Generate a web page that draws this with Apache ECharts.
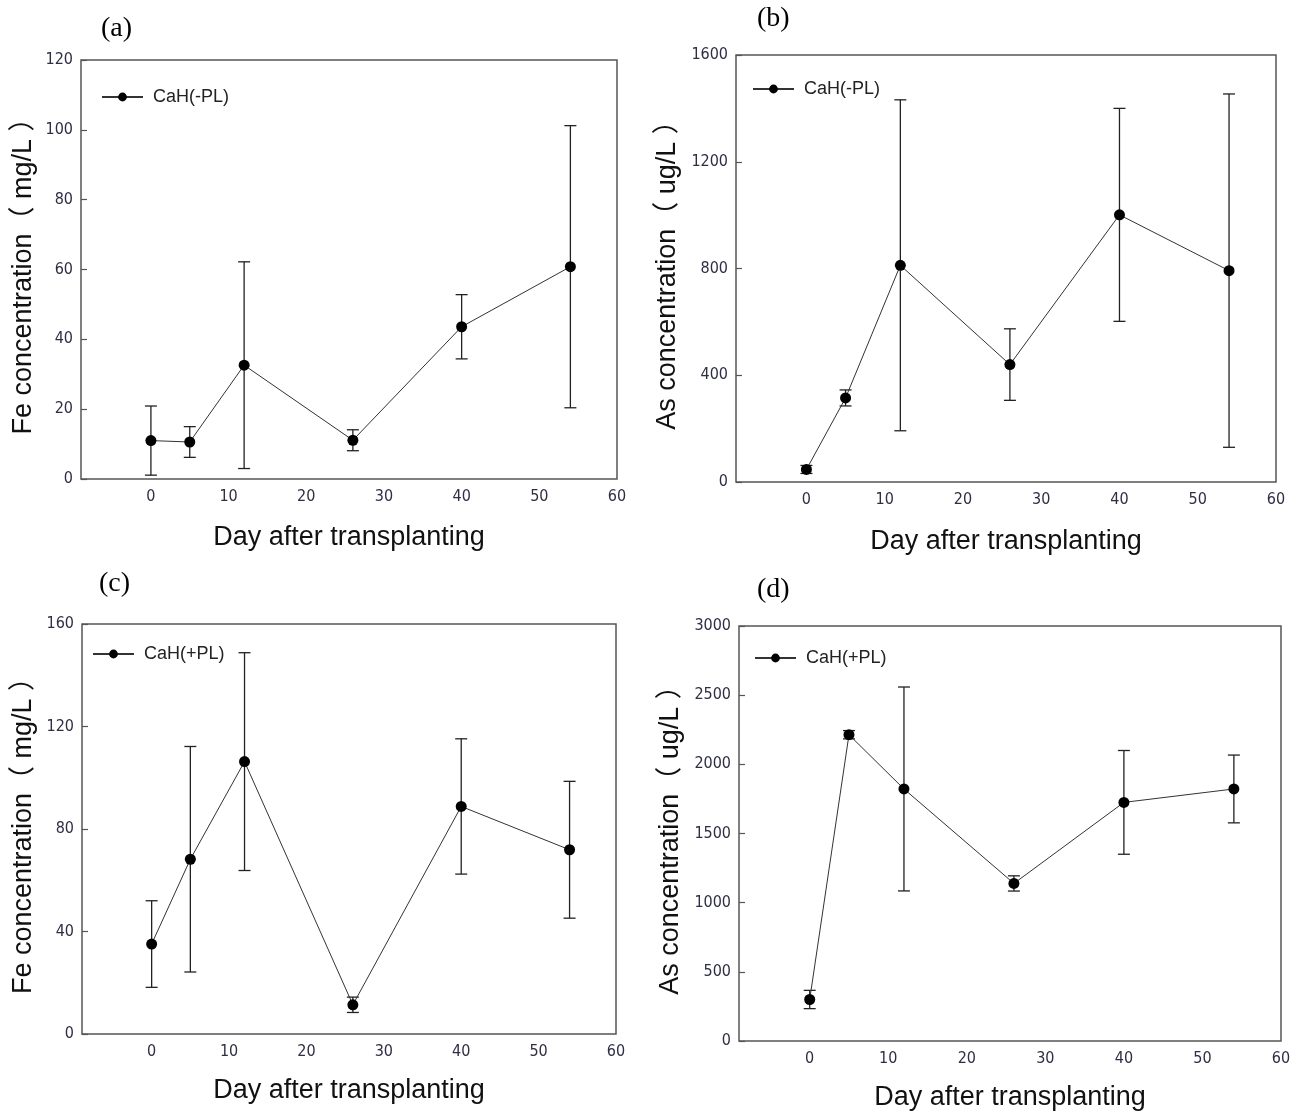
<!DOCTYPE html>
<html>
<head>
<meta charset="utf-8">
<title>Fe and As concentration</title>
<script src="https://cdn.jsdelivr.net/npm/echarts@6/dist/echarts.min.js"></script>
<style>
  html, body { margin: 0; padding: 0; background: #fff; }
  #main { width: 1299px; height: 1113px; }
</style>
</head>
<body>
<div id="main"></div>
<script>
// days after transplanting (shared x values)
var days = [0, 5, 12, 26, 40, 54];
var xTicks = [0, 10, 20, 30, 40, 50, 60];

// (a) Fe, CaH(-PL)
var feMinusMean = [11.0, 10.6, 32.6, 11.1, 43.6, 60.8];
var feMinusErr  = [9.9, 4.4, 29.6, 3.0, 9.2, 40.4];
var feMinusTicks = [0, 20, 40, 60, 80, 100, 120];

// (b) As, CaH(-PL)
var asMinusMean = [47, 315, 812, 440, 1001, 792];
var asMinusErr  = [15, 30, 620, 134, 399, 662];
var asMinusTicks = [0, 400, 800, 1200, 1600];

// (c) Fe, CaH(+PL)
var fePlusMean = [35.1, 68.2, 106.3, 11.4, 88.8, 71.9];
var fePlusErr  = [16.9, 44.0, 42.5, 3.0, 26.4, 26.7];
var fePlusTicks = [0, 40, 80, 120, 160];

// (d) As, CaH(+PL)
var asPlusMean = [300, 2214, 1822, 1139, 1725, 1822];
var asPlusErr  = [66, 30, 737, 55, 375, 245];
var asPlusTicks = [0, 500, 1000, 1500, 2000, 2500, 3000];

var chart = echarts.init(document.getElementById('main'));

var tickFont = '"Liberation Sans Narrow", "DejaVu Sans Condensed", "Liberation Sans", sans-serif';
var titleFont = '"Liberation Sans", "Noto Sans CJK TC", sans-serif';

// panel layout (pixels)
var panels = [
  { tag: '(a)', name: 'CaH(-PL)', yName: 'Fe concentration（ mg/L ）', mean: feMinusMean, err: feMinusErr, ticks: feMinusTicks,
    grid: { left: 81, top: 60, width: 536, height: 419 }, yGap: 44, xGap: 45, legend: [101, 88], label: [101, 31] },
  { tag: '(b)', name: 'CaH(-PL)', yName: 'As concentration（ ug/L ）', mean: asMinusMean, err: asMinusErr, ticks: asMinusTicks,
    grid: { left: 736, top: 55, width: 540, height: 427 }, yGap: 55, xGap: 46, legend: [752, 80], label: [757, 21] },
  { tag: '(c)', name: 'CaH(+PL)', yName: 'Fe concentration（ mg/L ）', mean: fePlusMean, err: fePlusErr, ticks: fePlusTicks,
    grid: { left: 82, top: 624, width: 534, height: 410 }, yGap: 45, xGap: 43, legend: [92, 645], label: [99, 586] },
  { tag: '(d)', name: 'CaH(+PL)', yName: 'As concentration（ ug/L ）', mean: asPlusMean, err: asPlusErr, ticks: asPlusTicks,
    grid: { left: 739, top: 626, width: 542, height: 415 }, yGap: 55, xGap: 43, legend: [754, 649], label: [757, 592] }
];

var grids = [], xAxes = [], yAxes = [], legends = [], series = [], graphics = [];

panels.forEach(function (p, i) {
  grids.push({
    left: p.grid.left, top: p.grid.top, width: p.grid.width, height: p.grid.height,
    show: true, borderColor: '#555', borderWidth: 1.5, backgroundColor: 'transparent'
  });
  xAxes.push({
    gridIndex: i, type: 'value', min: -9, max: xTicks[xTicks.length - 1], interval: 1,
    name: 'Day after transplanting', nameLocation: 'middle', nameGap: p.xGap,
    nameTextStyle: { fontFamily: titleFont, fontSize: 27, color: '#111' },
    axisLine: { show: false, onZero: false }, axisTick: { show: false }, splitLine: { show: false },
    axisLabel: {
      margin: 10, fontFamily: tickFont, fontSize: 16, color: '#2e2e44',
      formatter: function (v) { return xTicks.indexOf(v) >= 0 ? String(v) : ''; }
    }
  });
  yAxes.push({
    gridIndex: i, type: 'value', min: p.ticks[0], max: p.ticks[p.ticks.length - 1],
    interval: p.ticks[1] - p.ticks[0],
    name: p.yName, nameLocation: 'middle', nameGap: p.yGap, nameRotate: 90,
    nameTextStyle: { fontFamily: titleFont, fontSize: 27, color: '#111' },
    axisLine: { show: false, onZero: false },
    axisTick: { show: true, inside: true, length: 6, lineStyle: { color: '#555', width: 1.2 } },
    splitLine: { show: false },
    axisLabel: {
      margin: 8, fontFamily: tickFont, fontSize: 16, color: '#2e2e44',
      formatter: function (v) { return String(v); }
    }
  });
  legends.push({
    data: [p.name], left: p.legend[0], top: p.legend[1], orient: 'vertical', padding: 0,
    itemWidth: 41, itemHeight: 11, selectedMode: false,
    textStyle: { fontFamily: 'Liberation Sans', fontSize: 18, color: '#222', padding: [0, 0, 0, 5] }
  });
  series.push({
    type: 'custom', xAxisIndex: i, yAxisIndex: i, silent: true, z: 1,
    data: days.map(function (d, k) { return [d, p.mean[k] - p.err[k], p.mean[k] + p.err[k]]; }),
    encode: { x: 0, y: [1, 2] },
    renderItem: function (params, api) {
      var lo = api.coord([api.value(0), api.value(1)]);
      var hi = api.coord([api.value(0), api.value(2)]);
      var w = 6;
      var st = { stroke: '#222', lineWidth: 1.3 };
      return {
        type: 'group',
        children: [
          { type: 'line', shape: { x1: lo[0], y1: lo[1], x2: hi[0], y2: hi[1] }, style: st },
          { type: 'line', shape: { x1: lo[0] - w, y1: lo[1], x2: lo[0] + w, y2: lo[1] }, style: st },
          { type: 'line', shape: { x1: hi[0] - w, y1: hi[1], x2: hi[0] + w, y2: hi[1] }, style: st }
        ]
      };
    }
  });
  series.push({
    name: p.name, type: 'line', xAxisIndex: i, yAxisIndex: i, z: 2,
    data: days.map(function (d, k) { return [d, p.mean[k]]; }),
    symbol: 'circle', symbolSize: 11,
    lineStyle: { color: '#333', width: 1 },
    itemStyle: { color: '#000' }
  });
  graphics.push({
    type: 'text', left: p.label[0], top: p.label[1] - 16,
    style: { text: p.tag, font: '28px "Liberation Serif"', fill: '#000' }
  });
});

chart.setOption({
  backgroundColor: '#fff',
  animation: false,
  grid: grids,
  xAxis: xAxes,
  yAxis: yAxes,
  legend: legends,
  series: series,
  graphic: graphics
});
</script>
</body>
</html>
